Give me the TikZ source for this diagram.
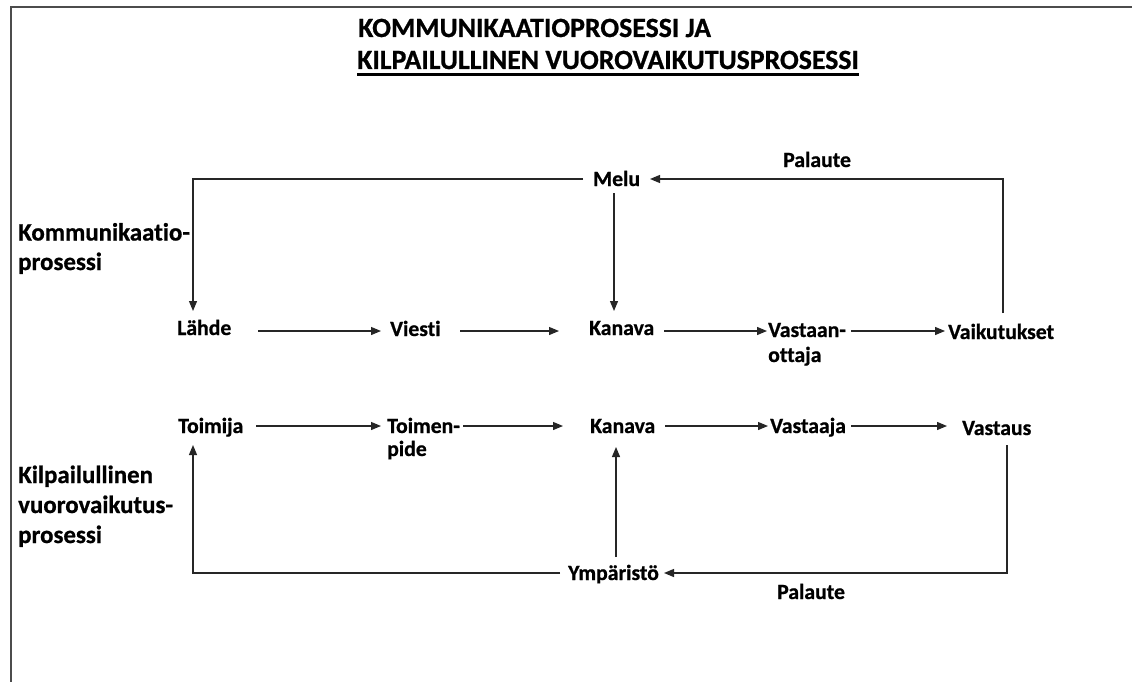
\documentclass[tikz,border=0pt]{standalone}
\usepackage{fontspec}
\setmainfont{Carlito}[Ligatures=NoCommon,BoldFeatures={FakeBold=0.8}]
\usetikzlibrary{arrows.meta}
\begin{document}
\begin{tikzpicture}[x=1pt,y=-1pt,
  lbl/.style={anchor=base west,inner sep=0pt,font=\fontsize{21.7}{23}\selectfont\bfseries,align=left},
  big/.style={anchor=base west,inner sep=0pt,font=\fontsize{24.9}{29.5}\selectfont\bfseries,align=left},
  ttl/.style={anchor=base west,inner sep=0pt,font=\fontsize{27.8}{32}\selectfont\bfseries},
  conn/.style={draw=black!85,line width=1.2pt},
  arr/.style={conn,-{Triangle[length=10pt,width=8pt]}},
  frame/.style={draw=black!70,line width=2pt}]
\useasboundingbox (0,0) rectangle (1132,682);
\fill[white] (0,0) rectangle (1132,682);
% frame
\coordinate (f1) at (11,682);
\coordinate (f2) at (11,7);
\coordinate (f3) at (1132,7);
\draw[frame] (f1) -- (f2) -- (f3);
% title
\node[ttl] (t1) at (358,37) {KOMMUNIKAATIOPROSESSI JA};
\node[ttl] (t2) at (357,69) {KILPAILULLINEN VUOROVAIKUTUSPROSESSI};
\draw[line width=3pt] (t2.south west|-0,75) -- (t2.south east|-0,75);
% side labels
\node[big] (k1) at (18,270) {Kommunikaatio-\\prosessi};
\node[big,font=\fontsize{24.9}{30}\selectfont\bfseries] (k2) at (18,543) {Kilpailullinen\\vuorovaikutus-\\prosessi};
% nodes
\node[lbl] (melu) at (593,186) {Melu};
\node[lbl] (pal1) at (783,167) {Palaute};
\node[lbl] (lahde) at (177,335) {Lähde};
\node[lbl] (viesti) at (390,336) {Viesti};
\node[lbl] (kan1) at (589,335) {Kanava};
\node[lbl,font=\fontsize{21.7}{25}\selectfont\bfseries] (vast) at (768,362) {Vastaan-\\ottaja};
\node[lbl] (vaik) at (948,339) {Vaikutukset};
\node[lbl] (toim) at (178,433) {Toimija};
\node[lbl] (tpide) at (387,456) {Toimen-\\pide};
\node[lbl] (kan2) at (590,433) {Kanava};
\node[lbl] (vja) at (770,433) {Vastaaja};
\node[lbl] (vus) at (962,435) {Vastaus};
\node[lbl] (ymp) at (568,580) {Ympäristö};
\node[lbl] (pal2) at (777,599) {Palaute};
% connector end points
\coordinate (meluL) at (583,179);
\coordinate (meluR) at (650,179);
\coordinate (meluB) at (614,193);
\coordinate (cTL) at (193,179);
\coordinate (lahdeT) at (193,311);
\coordinate (cTR) at (1003,179);
\coordinate (vaikT) at (1003,313);
\coordinate (kan1T) at (614,311);
\coordinate (a1s) at (258,331); \coordinate (a1e) at (381,331);
\coordinate (a2s) at (460,331); \coordinate (a2e) at (559,331);
\coordinate (a3s) at (664,331); \coordinate (a3e) at (767,331);
\coordinate (a4s) at (851,331); \coordinate (a4e) at (945,331);
\coordinate (b1s) at (256,426); \coordinate (b1e) at (381,426);
\coordinate (b2s) at (463,426); \coordinate (b2e) at (563,426);
\coordinate (b3s) at (665,426); \coordinate (b3e) at (768,426);
\coordinate (b4s) at (851,426); \coordinate (b4e) at (947,426);
\coordinate (vusB) at (1007,445);
\coordinate (cBR) at (1007,573);
\coordinate (ympR) at (664,573);
\coordinate (ympL) at (560,573);
\coordinate (cBL) at (193,573);
\coordinate (toimB) at (193,445);
\coordinate (ympT) at (616,557);
\coordinate (kan2B) at (616,447);
% top loop
\draw[arr] (meluL) -- (cTL) -- (lahdeT);
\draw[arr] (vaikT) -- (cTR) -- (meluR);
\draw[arr] (meluB) -- (kan1T);
% row 1
\draw[arr] (a1s) -- (a1e);
\draw[arr] (a2s) -- (a2e);
\draw[arr] (a3s) -- (a3e);
\draw[arr] (a4s) -- (a4e);
% row 2
\draw[arr] (b1s) -- (b1e);
\draw[arr] (b2s) -- (b2e);
\draw[arr] (b3s) -- (b3e);
\draw[arr] (b4s) -- (b4e);
% bottom loop
\draw[arr] (vusB) -- (cBR) -- (ympR);
\draw[arr] (ympL) -- (cBL) -- (toimB);
\draw[arr] (ympT) -- (kan2B);
\end{tikzpicture}
\end{document}
